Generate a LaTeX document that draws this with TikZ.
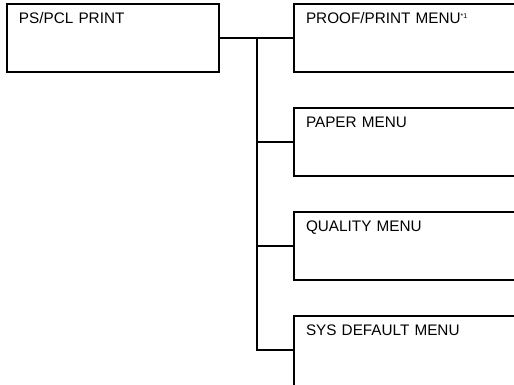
\documentclass[tikz,border=0pt]{standalone}
\usepackage{fontspec}
\setmainfont{Liberation Sans}
\usetikzlibrary{positioning}
\tikzset{
  rootbox/.style={draw=black, line width=1.3pt, anchor=north west, align=left,
    text width=188pt, inner xsep=12pt, inner ysep=9pt, text height=11pt,
    text depth=39pt, outer sep=0pt, font=\fontsize{15.3}{17}\selectfont},
  menubox/.style={rootbox, text width=230pt},
  link/.style={draw=black, line width=1.3pt},
}
\begin{document}
\begin{tikzpicture}[x=1pt, y=1pt, node distance=36pt]
    \useasboundingbox (0,0) rectangle (514,385);
    \node[rootbox] (root) at (7,381) {PS/PCL PRINT};
    \node[menubox] (proof) at (294,381) {PROOF/PRINT MENU\textsuperscript{\scriptsize*1}};
    \node[menubox, below=of proof.south west, anchor=north west] (paper) {PAPER MENU};
    \node[menubox, below=of paper.south west, anchor=north west] (quality) {QUALITY MENU};
    % last box runs off the bottom edge
    \node[menubox, text depth=70pt, below=of quality.south west, anchor=north west] (sysdef) {SYS DEFAULT MENU};
    \coordinate (spine) at (257,0);
    \coordinate (sysin) at ([yshift=-34pt]sysdef.north west);
    \draw[link] (root.east) -- (proof.west);
    \draw[link] (root.east -| spine) |- (sysin);
    \draw[link] (paper.west -| spine) -- (paper.west);
    \draw[link] (quality.west -| spine) -- (quality.west);
  \end{tikzpicture}
\end{document}
